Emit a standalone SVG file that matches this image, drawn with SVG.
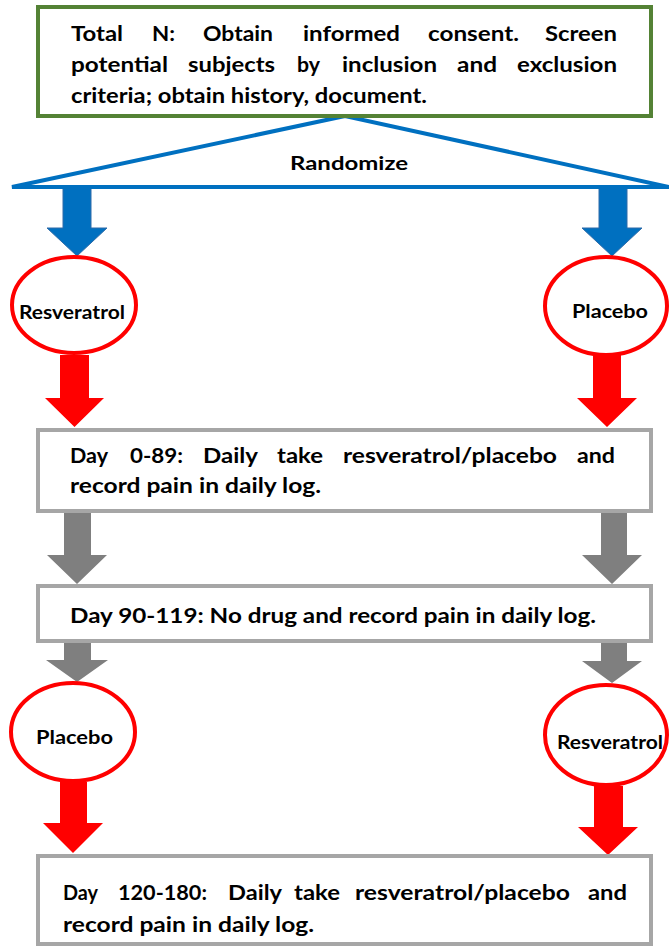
<svg xmlns="http://www.w3.org/2000/svg" width="669" height="947" viewBox="0 0 669 947">
<style>
text{font-family:"Lato","Open Sans","Liberation Sans",sans-serif;font-weight:bold;fill:#000;}
.t{font-size:21px;}
.c{font-size:19px;text-anchor:middle;}
.box{fill:#fff;stroke:#A6A6A6;stroke-width:4;}
.ell{fill:#fff;stroke:#FF0000;stroke-width:4;}
.blue{fill:#0070C0;stroke:#2E6BA8;stroke-width:1;}
.red{fill:#FF0000;}
.gray{fill:#7F7F7F;}
</style>
<g id="connectors">
<polygon class="blue" points="63,187 91,187 91,228 107,228 77,256 47,228 63,228"/>
<polygon class="blue" points="599,187 627,187 627,228 642,228 612,256 582,228 599,228"/>
<polygon class="red" points="60,355 89,355 89,398 104,398 74.5,427 45,398 60,398"/>
<polygon class="red" points="593,355 621,355 621,398 637,398 607,427 577,398 593,398"/>
<polygon class="gray" points="64,513 91,513 91,555 107,555 77,584 47,555 64,555"/>
<polygon class="gray" points="601,513 627,513 627,555 642,555 612,584 582,555 601,555"/>
<polygon class="gray" points="64,642 91,642 91,660 108,660 77,682 46,660 64,660"/>
<polygon class="gray" points="601,642 627,642 627,661 642,661 612,683 582,661 601,661"/>
<polygon class="red" points="60,782 87,782 87,823 103,823 73,853 43,823 60,823"/>
<polygon class="red" points="594,786 623,786 623,827 638,827 608,855 578,827 594,827"/>
</g>
<g id="randomize">
<polygon points="345,116 12,187 669,187" fill="none" stroke="#0070C0" stroke-width="4" stroke-linejoin="miter"/>
<text x="349" y="170" font-size="19" text-anchor="middle" textLength="118" lengthAdjust="spacingAndGlyphs">Randomize</text>
</g>
<g id="screen">
<rect x="38" y="7" width="613" height="109" fill="#fff" stroke="#548235" stroke-width="4"/>
<text class="t" x="71" y="41" textLength="52" lengthAdjust="spacingAndGlyphs">Total</text>
<text class="t" x="152" y="41" textLength="23" lengthAdjust="spacingAndGlyphs">N:</text>
<text class="t" x="203" y="41" textLength="70" lengthAdjust="spacingAndGlyphs">Obtain</text>
<text class="t" x="303" y="41" textLength="97" lengthAdjust="spacingAndGlyphs">informed</text>
<text class="t" x="428" y="41" textLength="91" lengthAdjust="spacingAndGlyphs">consent.</text>
<text class="t" x="545" y="41" textLength="72" lengthAdjust="spacingAndGlyphs">Screen</text>
<text class="t" x="71" y="72" textLength="97" lengthAdjust="spacingAndGlyphs">potential</text>
<text class="t" x="188" y="72" textLength="87" lengthAdjust="spacingAndGlyphs">subjects</text>
<text class="t" x="297" y="72" textLength="23" lengthAdjust="spacingAndGlyphs">by</text>
<text class="t" x="342" y="72" textLength="95" lengthAdjust="spacingAndGlyphs">inclusion</text>
<text class="t" x="457" y="72" textLength="40" lengthAdjust="spacingAndGlyphs">and</text>
<text class="t" x="517" y="72" textLength="100" lengthAdjust="spacingAndGlyphs">exclusion</text>
<text class="t" x="71" y="103" textLength="356" lengthAdjust="spacingAndGlyphs">criteria; obtain history, document.</text>
</g>
<g id="arm1-resveratrol">
<ellipse class="ell" cx="74" cy="305" rx="62" ry="48"/>
<text class="c" x="72" y="319" textLength="106" lengthAdjust="spacingAndGlyphs">Resveratrol</text>
</g>
<g id="arm1-placebo">
<ellipse class="ell" cx="606" cy="306" rx="61" ry="49"/>
<text class="c" x="610" y="318" textLength="76" lengthAdjust="spacingAndGlyphs">Placebo</text>
</g>
<g id="day0-89">
<rect class="box" x="38" y="430" width="613" height="81"/>
<text class="t" x="70" y="463" textLength="38" lengthAdjust="spacingAndGlyphs">Day</text>
<text class="t" x="130" y="463" textLength="53" lengthAdjust="spacingAndGlyphs">0-89:</text>
<text class="t" x="203" y="463" textLength="55" lengthAdjust="spacingAndGlyphs">Daily</text>
<text class="t" x="277" y="463" textLength="46" lengthAdjust="spacingAndGlyphs">take</text>
<text class="t" x="343" y="463" textLength="214" lengthAdjust="spacingAndGlyphs">resveratrol/placebo</text>
<text class="t" x="577" y="463" textLength="38" lengthAdjust="spacingAndGlyphs">and</text>
<text class="t" x="70" y="493" textLength="251" lengthAdjust="spacingAndGlyphs">record pain in daily log.</text>
</g>
<g id="day90-119">
<rect class="box" x="38" y="586" width="613" height="55"/>
<text class="t" x="70" y="623" textLength="526" lengthAdjust="spacingAndGlyphs">Day 90-119: No drug and record pain in daily log.</text>
</g>
<g id="arm2-placebo">
<ellipse class="ell" cx="73" cy="732" rx="62" ry="49"/>
<text class="c" x="74.5" y="744" textLength="77" lengthAdjust="spacingAndGlyphs">Placebo</text>
</g>
<g id="arm2-resveratrol">
<ellipse class="ell" cx="606" cy="735" rx="61" ry="50"/>
<text class="c" x="610" y="749" textLength="106" lengthAdjust="spacingAndGlyphs">Resveratrol</text>
</g>
<g id="day120-180">
<rect class="box" x="38" y="856" width="613" height="88"/>
<text class="t" x="63" y="900" textLength="35" lengthAdjust="spacingAndGlyphs">Day</text>
<text class="t" x="118" y="900" textLength="89" lengthAdjust="spacingAndGlyphs">120-180:</text>
<text class="t" x="228" y="900" textLength="54" lengthAdjust="spacingAndGlyphs">Daily</text>
<text class="t" x="294" y="900" textLength="46" lengthAdjust="spacingAndGlyphs">take</text>
<text class="t" x="355" y="900" textLength="215" lengthAdjust="spacingAndGlyphs">resveratrol/placebo</text>
<text class="t" x="588" y="900" textLength="39" lengthAdjust="spacingAndGlyphs">and</text>
<text class="t" x="63" y="932" textLength="251" lengthAdjust="spacingAndGlyphs">record pain in daily log.</text>
</g>
</svg>
